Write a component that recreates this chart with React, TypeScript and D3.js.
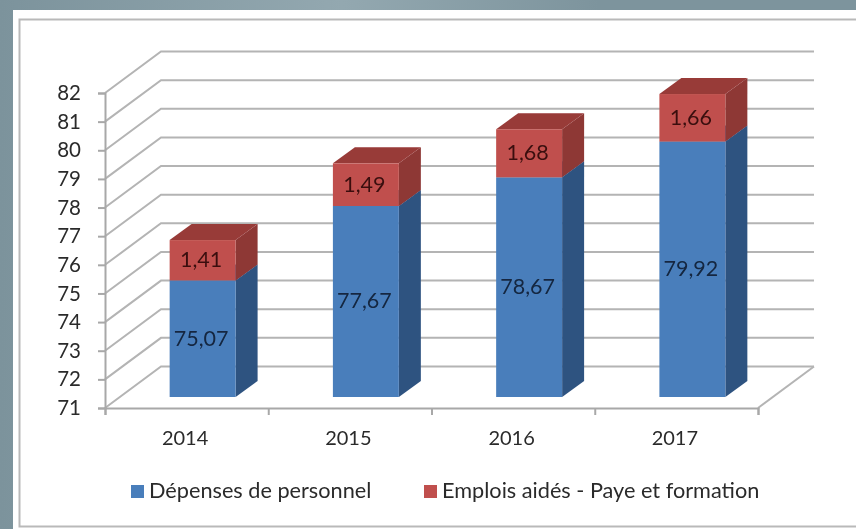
import { useEffect, useRef } from 'react';
import * as d3 from 'd3';

const years = ['2014', '2015', '2016', '2017'];
const personnel = [75.07, 77.67, 78.67, 79.92];
const emplois = [1.41, 1.49, 1.68, 1.66];
const personnelLabels = ['75,07', '77,67', '78,67', '79,92'];
const emploisLabels = ['1,41', '1,49', '1,68', '1,66'];
const yTicks = [71, 72, 73, 74, 75, 76, 77, 78, 79, 80, 81, 82];
const legendNames = ['Dépenses de personnel', 'Emplois aidés - Paye et formation'];

const width = 856;
const height = 529;
const left = 105;
const right = 758;
const bottom = 408;
const top = 93;
// chart box depth on screen, and where the bars sit inside it
const depthX = 56;
const depthY = -41.5;
const barFrontX = 16;
const barFrontY = -11;
const barDepthX = 22;
const barDepthY = -16;
const font = 'Lato, "Open Sans", sans-serif';

function App() {
  const ref = useRef<SVGSVGElement>(null);

  useEffect(() => {
    const svg = d3.select(ref.current);
    svg.selectAll('*').remove();

    const xScale = d3.scaleBand()
      .domain(years)
      .range([left, right])
      .paddingInner(0.596)
      .paddingOuter(0.298);

    const yScale = d3.scaleLinear()
      .domain([71, 82])
      .range([bottom, top]);

    const defs = svg.append('defs');
    const bg = defs.append('linearGradient').attr('id', 'bg');
    bg.append('stop').attr('offset', '0').attr('stop-color', '#7c939c');
    bg.append('stop').attr('offset', '0.4').attr('stop-color', '#93a8b0');
    bg.append('stop').attr('offset', '0.7').attr('stop-color', '#7d949d');
    bg.append('stop').attr('offset', '1').attr('stop-color', '#7d949d');
    defs.append('filter').attr('id', 'soft')
      .append('feGaussianBlur').attr('stdDeviation', 0.65);

    const root = svg.append('g').attr('filter', 'url(#soft)');

    // frame
    root.append('rect').attr('width', width).attr('height', height).attr('fill', 'url(#bg)');
    root.append('rect').attr('x', 13).attr('y', 10).attr('width', width - 13).attr('height', height - 10).attr('fill', '#fff');
    root.append('rect').attr('x', 19.5).attr('y', 19.5).attr('width', width).attr('height', 507)
      .attr('fill', 'none').attr('stroke', '#b9b9b9').attr('stroke-width', 2);

    const line = d3.line();

    // gridlines on the side and back walls
    root.append('g')
      .selectAll('path')
      .data(yTicks)
      .enter()
      .append('path')
      .attr('d', (d) => line([
        [left, yScale(d)],
        [left + depthX, yScale(d) + depthY],
        [right + depthX, yScale(d) + depthY],
      ]))
      .attr('fill', 'none')
      .attr('stroke', '#b4b4b4')
      .attr('stroke-width', 2);

    // floor edge
    root.append('path')
      .attr('d', line([
        [right, bottom],
        [right + depthX, bottom + depthY],
      ]))
      .attr('fill', 'none')
      .attr('stroke', '#b4b4b4')
      .attr('stroke-width', 2);

    const yAxis = d3.axisLeft(yScale).tickValues(yTicks).tickSize(7).tickPadding(17).tickFormat(d3.format('d'));
    const gy = root.append('g')
      .attr('transform', `translate(${left}, 0)`)
      .call(yAxis);

    const xStep = xScale.step();
    const xAxis = d3.axisBottom(d3.scaleLinear().domain([0, 4]).range([left, right]))
      .tickValues([0, 1, 2, 3, 4]).tickSize(7).tickFormat(() => '');
    const gx = root.append('g')
      .attr('transform', `translate(0, ${bottom})`)
      .call(xAxis);

    [gy, gx].forEach((g) => {
      g.selectAll('path').attr('stroke', '#a8a8a8').attr('stroke-width', 2);
      g.selectAll('line').attr('stroke', '#a8a8a8').attr('stroke-width', 2);
    });
    gy.selectAll('text')
      .attr('font-family', font)
      .attr('font-size', 20.5)
      .attr('fill', '#2b2b2b');

    root.append('g')
      .selectAll('text')
      .data(years)
      .enter()
      .append('text')
      .attr('x', (d) => left + years.indexOf(d) * xStep + xStep / 2 - 1.5)
      .attr('y', 445)
      .attr('text-anchor', 'middle')
      .attr('font-family', font)
      .attr('font-size', 20)
      .attr('fill', '#2b2b2b')
      .text((d) => d);

    // one 3D box: front, side and top faces
    const drawBox = (i: number, from: number, to: number, front: string, side: string, lid: string) => {
      const x0 = (xScale(years[i]) as number) + barFrontX;
      const x1 = x0 + xScale.bandwidth();
      const y0 = yScale(from) + barFrontY;
      const y1 = yScale(to) + barFrontY;
      const g = root.append('g');
      g.append('path')
        .attr('d', line([[x1, y0], [x1 + barDepthX, y0 + barDepthY], [x1 + barDepthX, y1 + barDepthY], [x1, y1]]) + 'Z')
        .attr('fill', side);
      g.append('path')
        .attr('d', line([[x0, y1], [x1, y1], [x1 + barDepthX, y1 + barDepthY], [x0 + barDepthX, y1 + barDepthY]]) + 'Z')
        .attr('fill', lid);
      g.append('rect')
        .attr('x', x0)
        .attr('y', y1)
        .attr('width', x1 - x0)
        .attr('height', y0 - y1)
        .attr('fill', front);
    };

    const addLabel = (i: number, from: number, to: number, label: string, fill: string) => {
      root.append('text')
        .attr('x', (xScale(years[i]) as number) + barFrontX + xScale.bandwidth() / 2 - 1.5)
        .attr('y', (yScale(from) + yScale(to)) / 2 + barFrontY + 7)
        .attr('text-anchor', 'middle')
        .attr('font-family', font)
        .attr('font-size', 21.5)
        .attr('fill', fill)
        .text(label);
    };

    years.forEach((_, i) => {
      const mid = personnel[i];
      const end = mid + emplois[i];
      drawBox(i, 71, mid, '#4a7ebb', '#2f5380', '#3c659a');
      drawBox(i, mid, end, '#c0504d', '#8e3735', '#983a38');
      addLabel(i, 71, mid, personnelLabels[i], '#12263f');
      addLabel(i, mid, end, emploisLabels[i], '#3a1010');
    });

    // legend
    const legendX = [131, 424];
    const legendColours = ['#4a7ebb', '#c0504d'];
    legendNames.forEach((name, i) => {
      root.append('rect')
        .attr('x', legendX[i])
        .attr('y', 485)
        .attr('width', 13)
        .attr('height', 13)
        .attr('fill', legendColours[i]);
      root.append('text')
        .attr('x', legendX[i] + 18)
        .attr('y', 498)
        .attr('font-family', font)
        .attr('font-size', 21.7)
        .attr('fill', '#2b2b2b')
        .text(name);
    });
  }, []);

  return (
    <svg
      ref={ref}
      width={width}
      height={height}
      style={{ position: 'absolute', left: 0, top: 0 }}
    />
  );
}

export default App;
